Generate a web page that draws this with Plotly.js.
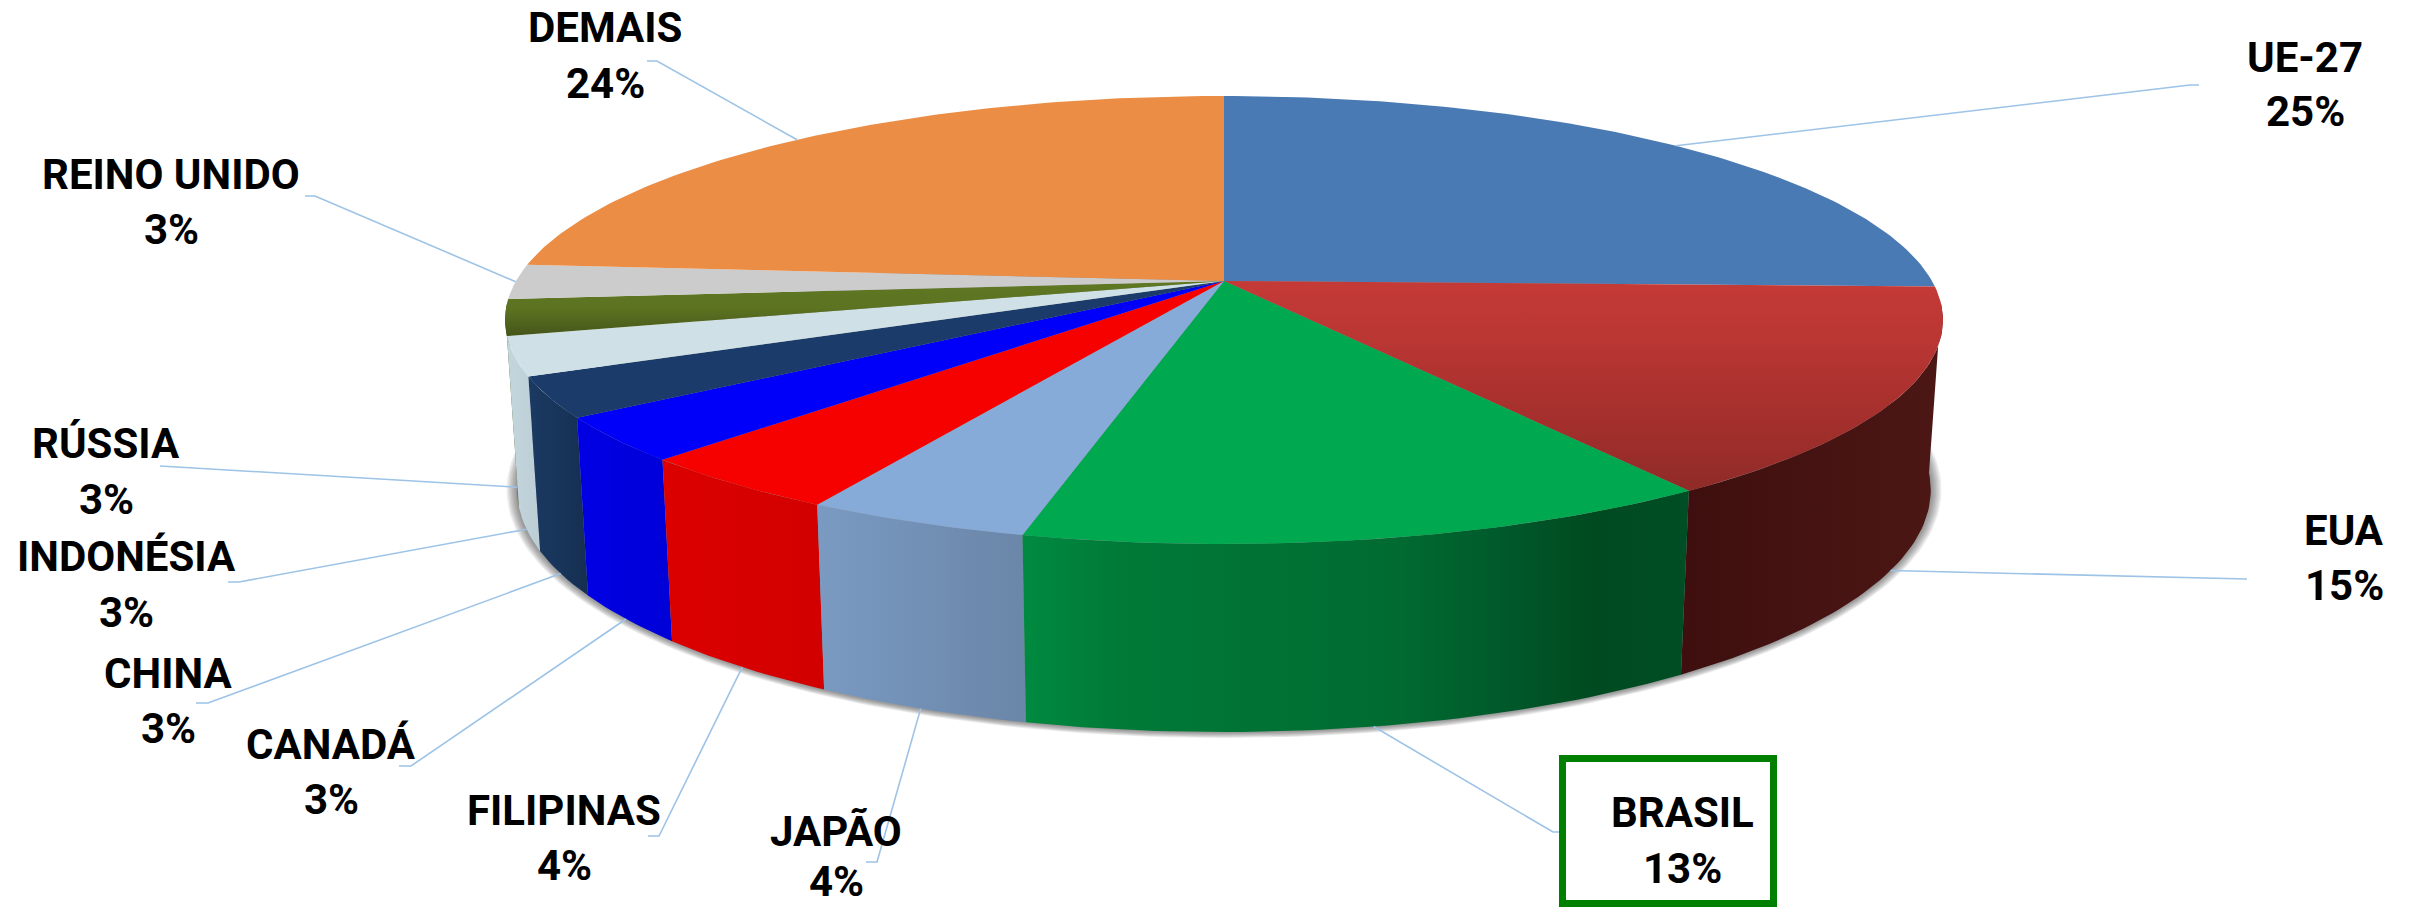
<!DOCTYPE html>
<html><head><meta charset="utf-8">
<script src="https://cdn.plot.ly/plotly-3.0.1.min.js"></script>
<style>html,body{margin:0;padding:0;background:#fff;overflow:hidden}#c{width:2415px;height:907px}</style>
</head><body><div id="c"></div>
<script>
// DATA
const categories = ["UE-27","EUA","BRASIL","JAPÃO","FILIPINAS","CANADÁ","CHINA","INDONÉSIA","RÚSSIA","REINO UNIDO","DEMAIS"];
const shares = [25.4,15.1,13.3,4.3,4.1,3.2,2.9,2.8,2.6,2.5,23.8];

// STYLE
const topColors = ["#4A7AB3",null,"#00A84F","#87ABD8","#F70000","#0000FA","#1B3C6A","#CFE1E6",null,"#CCCCCC","#EB8D45"];
const topVertical = {1:["#C43A37","#BB3734","#AD322F","#9F2E2B","#8F2B28"],8:["#5F7823","#5C7321","#45551A"]};
const wallColors = [["#3A5F8C","#3A5F8C"],["#3E0F0E","#4C1715"],["#008A40","#007A38","#007535","#007033","#006A31","#005A2B","#004A20","#004E25"],["#7A9AC2","#6A86A8"],["#DC0000","#D20000"],["#0000E4","#0000D8"],["#1B3A62","#152F52"],["#C4D6DD","#BCCDD6"],["#4A5A1C","#4A5A1C"],["#A8A8A8","#A8A8A8"],["#B86F36","#B86F36"]];
const leaderColor = "#9DC3E6";

// PROJECTION of the tilted disc (page pixels)
const apexX = 1224, apexY = 281, persp = 0.174;
const topA = 708, topB = 217.2;
const baseA = 696, baseB = 234.7, baseY = 447.9;
const proj = (deg, a, b, y0) => {
  const t = deg*Math.PI/180, u = Math.sin(t), v = -Math.cos(t), d = 1-persp*v;
  return [apexX + a*u/d, y0 + b*v/d];
};
const topPt = d => proj(d, topA, topB, apexY);
const basePt = d => proj(d, baseA, baseB, baseY);
const arc = (f, a, b) => { const out=[]; const n=Math.max(2,Math.ceil(Math.abs(b-a)));
  for(let i=0;i<=n;i++) out.push(f(a+(b-a)*i/n)); return out; };

const total = shares.reduce((s,v)=>s+v,0);
let acc = 0;
const slices = shares.map(v => { const a=acc/total*360; acc+=v; return {a, b:acc/total*360, m:(a+v/total*180)}; });

const traces = [];
const poly = (pts, extra) => traces.push(Object.assign({type:"scatter",mode:"lines",x:pts.map(p=>p[0]),y:pts.map(p=>p[1]),
  fill:"toself",line:{width:0},hoverinfo:"skip",showlegend:false}, extra));
const scale = stops => stops.map((c,i)=>[i/(stops.length-1),c]);

// soft shadow beneath the disc
for(let i=8;i>=1;i--){
  const pts = arc(d=>{ const p=basePt(d); const cx=apexX-2, cy=490;
    return [cx+(p[0]-cx)*(1+i*1.35/712), cy+(p[1]-cy)*(1+i*0.75/242)]; },0,360);
  poly(pts,{fillcolor:"rgba(70,70,70,0.09)"});
}

// side walls, far ones first
const lim = 96;
const order = slices.map((s,i)=>i).filter(i=>{const s=slices[i];return s.b>lim && s.a<264;})
  .sort((p,q)=>(-Math.cos(slices[p].m*Math.PI/180))-(-Math.cos(slices[q].m*Math.PI/180)));
order.forEach(i=>{
  const s=slices[i], a=Math.max(s.a,lim), b=Math.min(s.b,264);
  const pts=[...arc(topPt,a,b),...arc(basePt,b,a)];
  const xs=pts.map(p=>p[0]);
  poly(pts,{fillcolor:wallColors[i][0],fillgradient:{type:"horizontal",colorscale:scale(wallColors[i]),start:Math.min(...xs),stop:Math.max(...xs)}});
});

// top faces
slices.forEach((s,i)=>{
  const pts=[[apexX,apexY],...arc(topPt,s.a,s.b)];
  const opt={};
  if(topVertical[i]){
    const ys=pts.map(p=>p[1]);
    opt.fillgradient={type:"vertical",colorscale:scale(topVertical[i]),start:Math.min(...ys),stop:Math.max(...ys)};
    opt.fillcolor=topVertical[i][1];
  } else opt.fillcolor=topColors[i];
  poly(pts,opt);
});

// LABEL placement: name centre [x,y], percent y; leader elbow [x,y], leader end x
const labelPos = [[2305,57,111],[2344,530,585],[1682,812,868],[836,831,881],[564,810,865],[331,744,799],[168,673,728],[126,556,612],[106,443,499],[171,174,229],[605,27,83]];
const elbows = [[2190,85,2199],[2247,579,2247],[1553,832,1560],[877,862,866],[659,836,648],[411,766,399],[208,703,196],[239,582,228],[168,466,160],[315,196,305],[657,61,647]];

slices.forEach((s,i)=>{
  const v=-Math.cos(s.m*Math.PI/180);
  const st = v>0.1 ? basePt(s.m) : topPt(s.m);
  const e=elbows[i];
  traces.push({type:"scatter",mode:"lines",x:[st[0],e[0],e[2]],y:[st[1],e[1],e[1]],line:{color:leaderColor,width:1.6},hoverinfo:"skip",showlegend:false});
});

const font={family:"Roboto, Arial, sans-serif",size:42,color:"#000",weight:700};
const annotations=[];
categories.forEach((c,i)=>{
  const p=labelPos[i];
  annotations.push({x:p[0],y:p[1],xref:"x",yref:"y",text:"<b>"+c+"</b>",showarrow:false,xanchor:"center",yanchor:"middle",font});
  annotations.push({x:p[0],y:p[2],xref:"x",yref:"y",text:"<b>"+Math.round(shares[i])+"%</b>",showarrow:false,xanchor:"center",yanchor:"middle",font});
});

const layout={width:2415,height:907,margin:{l:0,r:0,t:0,b:0},paper_bgcolor:"#fff",plot_bgcolor:"#fff",showlegend:false,
  xaxis:{range:[0,2415],visible:false,fixedrange:true},
  yaxis:{range:[907,0],visible:false,fixedrange:true},
  annotations,
  shapes:[{type:"rect",xref:"x",yref:"y",x0:1562.5,x1:1773.5,y0:758.5,y1:903.5,line:{color:"#008000",width:7},fillcolor:"rgba(0,0,0,0)"}]};
Plotly.newPlot("c",traces,layout,{displayModeBar:false,staticPlot:true});
</script></body></html>
